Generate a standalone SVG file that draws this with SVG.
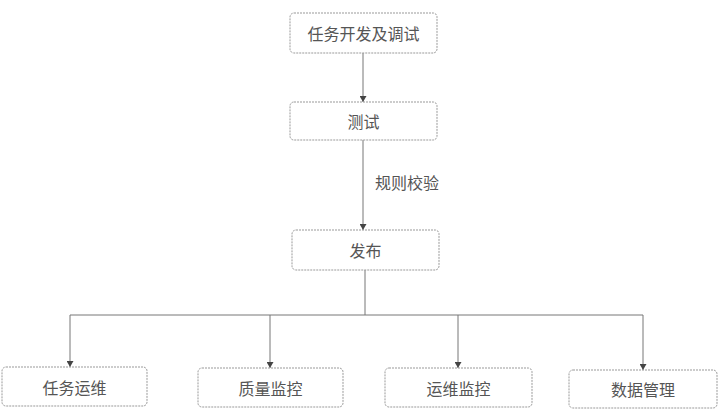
<svg xmlns="http://www.w3.org/2000/svg" width="720" height="413" viewBox="0 0 720 413">
<style>
.box{fill:#fff;stroke:#999;stroke-width:1;stroke-dasharray:2 1}
.t{font-family:"Noto Sans CJK SC","Noto Sans",sans-serif;font-size:16px;fill:#555;text-anchor:middle;dominant-baseline:central}
.c{fill:none;stroke:#777;stroke-width:1}
</style>
<defs>
<marker id="ah" viewBox="0 0 10 10" refX="10" refY="5" markerWidth="6" markerHeight="7" markerUnits="userSpaceOnUse" orient="auto" preserveAspectRatio="none">
<path d="M0,0 L10,5 L0,10 z" fill="#444"/>
</marker>
</defs>
<rect width="720" height="413" fill="#fff"/>
<g id="connectors">
<line class="c" x1="363" y1="53" x2="363" y2="102" marker-end="url(#ah)"/>
<line class="c" x1="363" y1="140" x2="363" y2="230" marker-end="url(#ah)"/>
<text class="t" x="407" y="182">规则校验</text>
<line class="c" x1="365" y1="270" x2="365" y2="315"/>
<line class="c" x1="70" y1="315" x2="643" y2="315"/>
<line class="c" x1="70" y1="315" x2="70" y2="367" marker-end="url(#ah)"/>
<line class="c" x1="270" y1="315" x2="270" y2="368" marker-end="url(#ah)"/>
<line class="c" x1="458" y1="315" x2="458" y2="368" marker-end="url(#ah)"/>
<line class="c" x1="643" y1="315" x2="643" y2="370" marker-end="url(#ah)"/>
</g>
<g id="n1"><rect class="box" x="290" y="13" width="147" height="40" rx="4"/><text class="t" x="363.5" y="33">任务开发及调试</text></g>
<g id="n2"><rect class="box" x="290" y="102" width="147" height="38" rx="4"/><text class="t" x="363.5" y="121">测试</text></g>
<g id="n3"><rect class="box" x="292" y="230" width="147" height="40" rx="4"/><text class="t" x="365.5" y="250">发布</text></g>
<g id="n4"><rect class="box" x="2" y="367" width="145" height="39" rx="4"/><text class="t" x="74.5" y="386.5">任务运维</text></g>
<g id="n5"><rect class="box" x="198" y="368" width="145" height="39" rx="4"/><text class="t" x="270.5" y="387.5">质量监控</text></g>
<g id="n6"><rect class="box" x="385" y="368" width="147" height="39" rx="4"/><text class="t" x="458.5" y="387.5">运维监控</text></g>
<g id="n7"><rect class="box" x="569" y="370" width="148" height="38" rx="4"/><text class="t" x="643" y="389">数据管理</text></g>
</svg>
